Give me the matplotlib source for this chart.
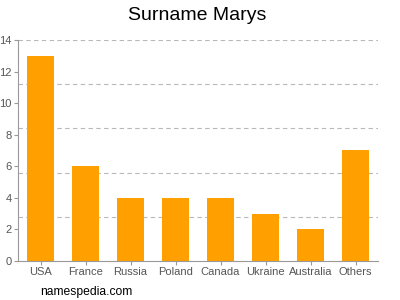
import numpy as np
import matplotlib.pyplot as plt

plt.rcParams['font.family'] = ['Liberation Sans', 'DejaVu Sans']

countries = ['USA', 'France', 'Russia', 'Poland', 'Canada', 'Ukraine', 'Australia', 'Others']
counts = [13, 6, 4, 4, 4, 3, 2, 7]
y_ticks = [0, 2, 4, 6, 8, 10, 12, 14]
grid_levels = [2.8, 5.6, 8.4, 11.2, 14]

fig = plt.figure(figsize=(4, 3), dpi=100)
ax = fig.add_axes([0.045, 0.13, 0.9, 0.7367])

x = np.arange(len(countries))
ax.bar(x, counts, width=0.6, color='#ffa000', zorder=2)

for g in grid_levels:
    ax.axhline(g, color='#b8b8b8', linestyle=(0, (4, 3)), linewidth=0.8, zorder=1)

ax.set_xlim(-0.5, len(countries) - 0.5)
ax.set_ylim(0, 14)
ax.set_yticks(y_ticks)
ax.set_xticks(x)
ax.set_xticklabels(countries)

for side in ['top', 'right']:
    ax.spines[side].set_visible(False)
for side in ['left', 'bottom']:
    ax.spines[side].set_color('#999999')
    ax.spines[side].set_linewidth(0.8)

ax.tick_params(axis='both', colors='#999999', labelcolor='#555555', labelsize=8,
               length=3, width=0.8, pad=1.5)

fig.text(0.4925, 0.95, 'Surname Marys', ha='center', va='center', fontsize=14)
fig.text(0.1, 0.027, 'namespedia.com', ha='left', va='center', fontsize=8.7)

fig.savefig('out.png', dpi=100)
